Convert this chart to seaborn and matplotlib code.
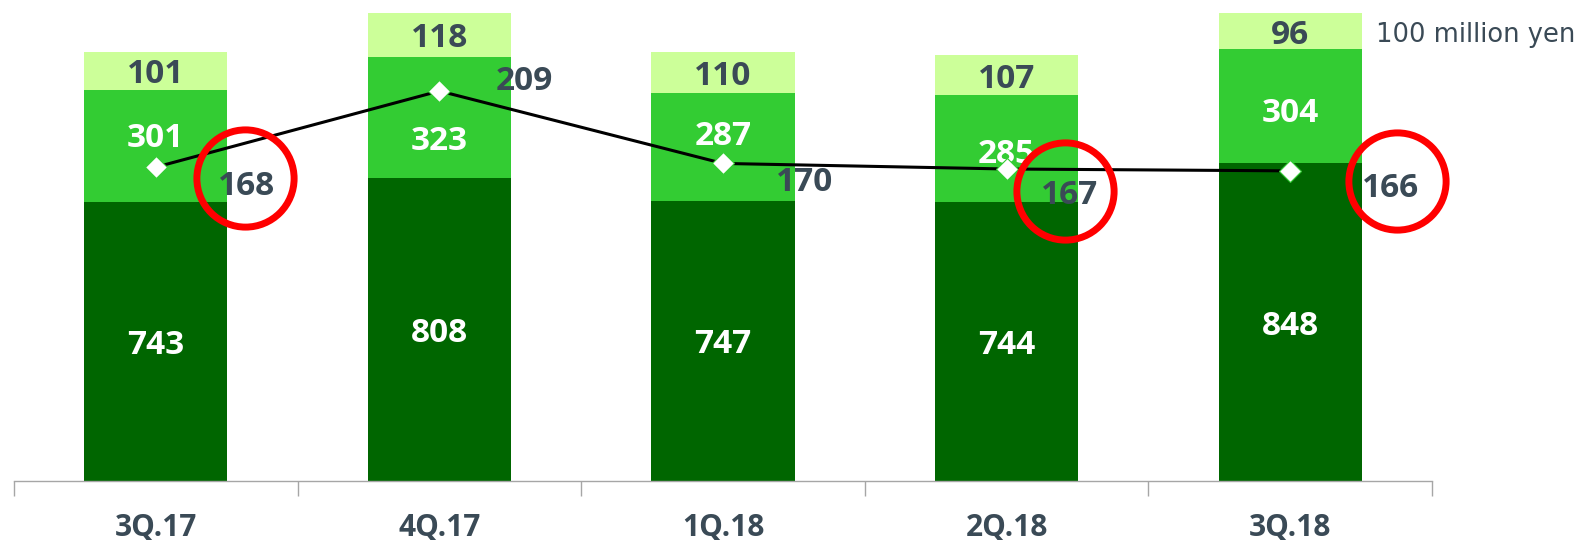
import matplotlib
matplotlib.use("Agg")
import matplotlib.pyplot as plt
import matplotlib.transforms as mtransforms
import seaborn as sns
import pandas as pd
import numpy as np

# ---- data ----
categories = ["3Q.17", "4Q.17", "1Q.18", "2Q.18", "3Q.18"]
dark_vals = [743, 808, 747, 744, 848]
mid_vals = [301, 323, 287, 285, 304]
light_vals = [101, 118, 110, 107, 96]
line_vals = [168, 209, 170, 167, 166]
unit_label = "100 million yen"
circled = [0, 3, 4]

# ---- style ----
sns.set_theme(style="white")
plt.rcParams["font.family"] = ["Open Sans", "DejaVu Sans"]

DARK = "#006600"
MID = "#33CC33"
LIGHT = "#CCFF99"
TXT = "#3A4A56"
NUM_FS = 24

W, H, DPI = 1578, 540, 100
fig = plt.figure(figsize=(W / DPI, H / DPI), dpi=DPI)
ax = fig.add_axes([14 / W, 59 / H, 1418 / W, 481 / H])

df = pd.DataFrame({"cat": categories, "dark": dark_vals, "mid": mid_vals, "light": light_vals})
df["dm"] = df["dark"] + df["mid"]
df["total"] = df["dm"] + df["light"]

bw = 0.505
sns.barplot(data=df, x="cat", y="total", color=LIGHT, saturation=1, width=bw, ax=ax, linewidth=0)
sns.barplot(data=df, x="cat", y="dm", color=MID, saturation=1, width=bw, ax=ax, linewidth=0)
sns.barplot(data=df, x="cat", y="dark", color=DARK, saturation=1, width=bw, ax=ax, linewidth=0)

ax.set_xlim(-0.5, 4.5)
ax.set_ylim(0, 1283)
ax.set_xlabel("")
ax.set_ylabel("")
ax.set_yticks([])
for s in ["top", "right", "left"]:
    ax.spines[s].set_visible(False)
ax.spines["bottom"].set_color("#A6A6A6")
ax.spines["bottom"].set_linewidth(1.0)
ax.set_xticks(range(len(categories)))
ax.set_xticklabels(categories, fontsize=21.5, fontweight="bold", color=TXT)
ax.tick_params(axis="x", which="major", length=0, pad=23)
ax.set_xticks(np.arange(-0.5, len(categories), 1.0), minor=True)
ax.tick_params(axis="x", which="minor", bottom=True, length=10.5, width=1.0,
               color="#A6A6A6", direction="out")

# segment labels (small vertical nudges in pixels for the middle segment)
mid_nudge = [12, -20, 15, -2, -3]
for i in range(len(categories)):
    d, m, l = dark_vals[i], mid_vals[i], light_vals[i]
    ax.text(i, d / 2, str(d), ha="center", va="center_baseline", fontsize=NUM_FS,
            fontweight="bold", color="white")
    ax.annotate(str(m), (i, d + m / 2), xytext=(0, mid_nudge[i]), textcoords="offset pixels",
                ha="center", va="center_baseline", fontsize=NUM_FS, fontweight="bold", color="white")
    ax.text(i, d + m + l / 2, str(l), ha="center", va="center_baseline", fontsize=NUM_FS,
            fontweight="bold", color=TXT)

# line on secondary axis
ax2 = ax.twinx()
xs = list(range(len(categories)))
sns.lineplot(x=xs, y=line_vals, ax=ax2, color="black", linewidth=2.2, marker="D",
             markersize=11, markerfacecolor="white", markeredgecolor=MID, markeredgewidth=0.8)
ax2.set_ylim(-1, 258)
ax2.set_xlim(-0.5, 4.5)
ax2.set_yticks([])
ax2.set_ylabel("")
for s in ax2.spines.values():
    s.set_visible(False)

label_off = [(91, -15), (85, 13), (82, -15), (63, -23), (100, -14)]
circle_off = {0: (89, -11), 3: (58, -22), 4: (107, -10)}
for i, v in enumerate(line_vals):
    dx, dy = label_off[i]
    ax2.annotate(str(v), (i, v), xytext=(dx, dy), textcoords="offset pixels",
                 ha="center", va="center_baseline", fontsize=NUM_FS, fontweight="bold", color=TXT)
for i in circled:
    dx, dy = circle_off[i]
    tr = ax2.transData + mtransforms.ScaledTranslation(dx / DPI, dy / DPI, fig.dpi_scale_trans)
    ax2.plot([i], [line_vals[i]], marker="o", markersize=70, markerfacecolor="none",
             markeredgecolor="#FF0000", markeredgewidth=5, transform=tr, clip_on=False)

fig.text(1376 / W, 1 - 35 / H, unit_label, ha="left", va="center", fontsize=18.5,
         color=TXT, family="DejaVu Sans")

fig.savefig("out.png", dpi=DPI)
